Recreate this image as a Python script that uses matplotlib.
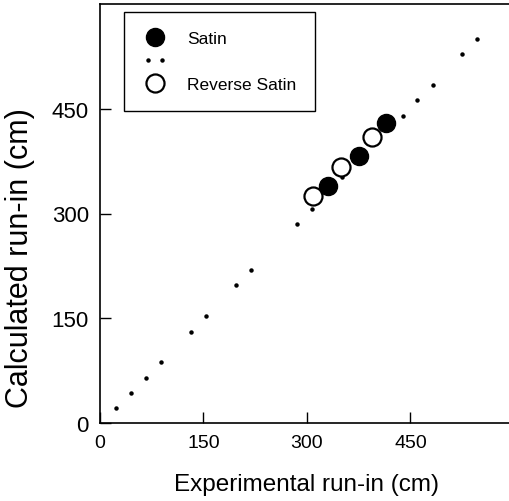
import matplotlib
matplotlib.use("Agg")
import matplotlib.pyplot as plt
from matplotlib.lines import Line2D
from matplotlib.legend_handler import HandlerLine2D

plt.rcParams['font.family'] = ['Liberation Sans', 'DejaVu Sans']

# Data
line_x = [23, 45, 67, 88, 132, 154, 197, 219, 285, 307, 351, 439, 460, 482, 525, 546]
line_y = [21, 43, 65, 87, 131, 153, 197, 219, 285, 307, 352, 440, 462, 484, 528, 550]
satin_x = [330, 375, 414]
satin_y = [339, 383, 430]
rev_x = [308, 350, 394]
rev_y = [325, 367, 410]
ticks = [0, 150, 300, 450]

W, H = 510, 502
fig = plt.figure(figsize=(W / 100, H / 100), dpi=100)
ax = fig.add_axes([100 / W, 78 / H, 414 / W, 419 / H])

ax.plot(line_x, line_y, linestyle='none', marker='o', markersize=2.2,
        color='black', zorder=2)
ax.plot(rev_x, rev_y, linestyle='none', marker='o', markersize=13,
        markerfacecolor='white', markeredgecolor='black', markeredgewidth=1.6, zorder=3)
ax.plot(satin_x, satin_y, linestyle='none', marker='o', markersize=13,
        markerfacecolor='black', markeredgecolor='black', zorder=3)

ax.set_xlim(0, 600)
ax.set_ylim(0, 600)
ax.set_xticks(ticks)
ax.set_yticks(ticks)
ax.tick_params(direction='in', length=8, width=1, labelsize=14, pad=8)
ax.tick_params(axis='y', labelsize=16)
for s in ax.spines.values():
    s.set_linewidth(1.2)

ax.set_xlabel('Experimental run-in (cm)', fontsize=17.5)
ax.set_ylabel('Calculated run-in (cm)', fontsize=22)
ax.xaxis.set_label_coords(0.5, -0.119)
ax.yaxis.set_label_coords(-0.157, 0.397)

h_satin = Line2D([], [], linestyle='none', marker='o', markersize=13,
                 markerfacecolor='black', markeredgecolor='black')
h_dots = Line2D([], [], linestyle='none', marker='o', markersize=2.2, color='black')
h_rev = Line2D([], [], linestyle='none', marker='o', markersize=13,
               markerfacecolor='white', markeredgecolor='black', markeredgewidth=1.6)
leg = ax.legend([h_satin, h_dots, h_rev], ['Satin', '', 'Reverse Satin'],
                loc='upper left', bbox_to_anchor=(0.058, 0.981), fontsize=12.5,
                frameon=True, fancybox=False, framealpha=1, edgecolor='black',
                handlelength=1.4, handletextpad=1.12, labelspacing=0.45,
                borderpad=1.1, borderaxespad=0,
                handler_map={h_dots: HandlerLine2D(numpoints=2)})
leg.get_frame().set_linewidth(1.0)

fig.savefig('out.png', dpi=100)
